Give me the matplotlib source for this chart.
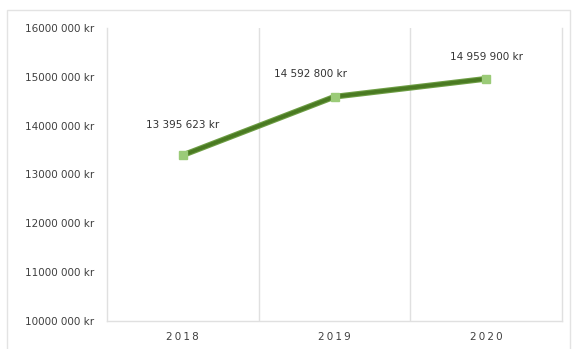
import matplotlib
matplotlib.use("Agg")
import matplotlib.pyplot as plt
from matplotlib.patches import Rectangle

years = ["2018", "2019", "2020"]
values = [13395623, 14592800, 14959900]
value_labels = ["13 395 623 kr", "14 592 800 kr", "14 959 900 kr"]
y_ticks = [10000000, 11000000, 12000000, 13000000, 14000000, 15000000, 16000000]
y_tick_labels = ["10000 000 kr", "11000 000 kr", "12000 000 kr", "13000 000 kr",
                 "14000 000 kr", "15000 000 kr", "16000 000 kr"]

W, H = 577, 349
fig = plt.figure(figsize=(W / 100, H / 100), dpi=100)
fig.patch.set_facecolor("white")

# outer chart frame
fig.patches.append(Rectangle((7 / W, -0.01), (570 - 7) / W, 1 - 10 / H + 0.01,
                             transform=fig.transFigure, fill=False,
                             edgecolor="#E3E3E3", linewidth=1.0))

ax = fig.add_axes([107 / W, 1 - 321 / H, (562 - 107) / W, (321 - 28) / H])
x = list(range(len(years)))

ax.set_xlim(-0.5, len(years) - 0.5)
ax.set_ylim(y_ticks[0], y_ticks[-1])

# vertical separators between categories
for b in [0.5, 1.5]:
    ax.axvline(b, color="#E0E0E0", linewidth=1.0, zorder=0)

for side in ["left", "bottom", "right"]:
    ax.spines[side].set_color("#E0E0E0")
    ax.spines[side].set_linewidth(1.0)
ax.spines["top"].set_visible(False)

ax.plot(x, values, color="#6E9E45", linewidth=4.2, solid_capstyle="round", zorder=2)
ax.plot(x, values, color="#4A7A22", linewidth=2.6, solid_capstyle="round", zorder=3,
        marker="s", markersize=6, markerfacecolor="#9BCB78", markeredgecolor="#9BCB78")

offsets = [(0, 18), (-17, 13), (0, 12)]
for xi, v, lab, (dx, dy) in zip(x, values, value_labels, offsets):
    ax.annotate(lab, (xi, v), xytext=(dx, dy), textcoords="offset points",
                ha="center", va="bottom", fontsize=7.5, color="#333333")

ax.set_yticks(y_ticks)
ax.set_yticklabels(y_tick_labels, fontsize=7.5, color="#404040")
ax.set_xticks(x)
ax.set_xticklabels(["\u2009".join(y) for y in years], fontsize=7.5, color="#404040")
ax.tick_params(axis="both", length=0, pad=9)
ax.tick_params(axis="x", pad=8)

fig.savefig("out.png", dpi=100, facecolor="white")
